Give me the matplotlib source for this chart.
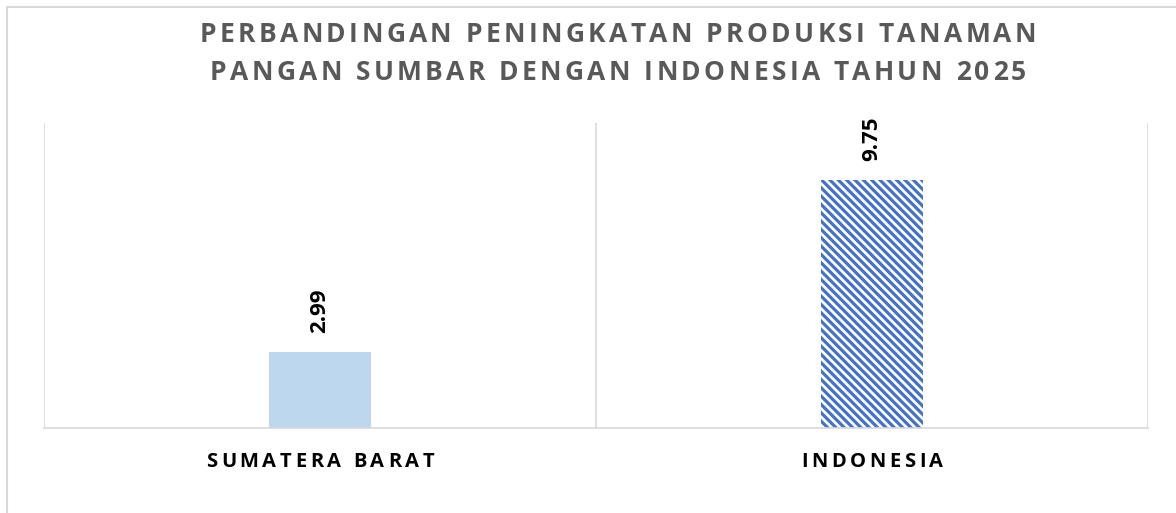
import matplotlib.pyplot as plt
from matplotlib.patches import Rectangle
from matplotlib.font_manager import FontProperties, findfont, get_font
from matplotlib.ft2font import LoadFlags

categories = ['SUMATERA BARAT', 'INDONESIA']
values = [2.99, 9.75]
title_lines = ['PERBANDINGAN PENINGKATAN PRODUKSI TANAMAN',
               'PANGAN SUMBAR DENGAN INDONESIA TAHUN 2025']

W, H = 1176, 513
FONT = 'Open Sans'
plt.rcParams['hatch.linewidth'] = 2.3

fig = plt.figure(figsize=(W / 100, H / 100), dpi=100)


def spaced_text(cx, y_px, s, size, spacing, color='black'):
    # Excel-style letter spacing: place characters one by one (pixel coords from top-left)
    prop = FontProperties(family=FONT, weight='bold', size=size)
    font = get_font(findfont(prop))
    em = size * 100 / 72
    advs = []
    for c in s:
        g = font.load_char(ord(c), flags=LoadFlags.NO_SCALE)
        advs.append(g.horiAdvance / font.units_per_EM * em)
    total = sum(advs) + spacing * (len(s) - 1)
    x = cx - total / 2
    for c, a in zip(s, advs):
        fig.text(x / W, 1 - y_px / H, c, fontproperties=prop, color=color,
                 ha='left', va='baseline')
        x += a + spacing


# outer chart border
fig.patches.append(Rectangle((7 / W, -0.1), 1.2, 1 - 7 / H + 0.1, transform=fig.transFigure,
                             fill=False, edgecolor='#d9d9d9', linewidth=1.5))

ax = fig.add_axes([44 / W, 1 - 428 / H, (1148 - 44) / W, (428 - 123) / H])
x = range(len(categories))
bars = ax.bar(x, values, width=0.185, color=['#BDD7EE', 'white'],
              edgecolor=['#BDD7EE', '#4472C4'], linewidth=0)
bars[1].set_hatch('\\\\\\\\')

ax.set_xlim(-0.5, 1.5)
ax.set_ylim(0, 12)
for s in ['top', 'right', 'left']:
    ax.spines[s].set_visible(False)
ax.spines['bottom'].set_color('#d9d9d9')
ax.spines['bottom'].set_linewidth(1.2)
for b in [-0.5, 0.5, 1.5]:
    ax.axvline(b, color='#d9d9d9', linewidth=1.2)
ax.set_yticks([])
ax.set_xticks([])

for i, v in enumerate(values):
    ax.annotate(f'{v:.2f}', (i, v), xytext=(0, 14), textcoords='offset points',
                rotation=90, ha='center', va='bottom', fontsize=16, fontweight='bold',
                family=FONT)

# category labels, centred under each bar
for i, c in enumerate(categories):
    px = ax.transData.transform((i, 0))[0]
    spaced_text(px, 467, c, 14.5, 3.6)

for line, y in zip(title_lines, [42, 80]):
    spaced_text(618, y, line, 19, 3.4, color='#595959')

fig.savefig('out.png', dpi=100)
